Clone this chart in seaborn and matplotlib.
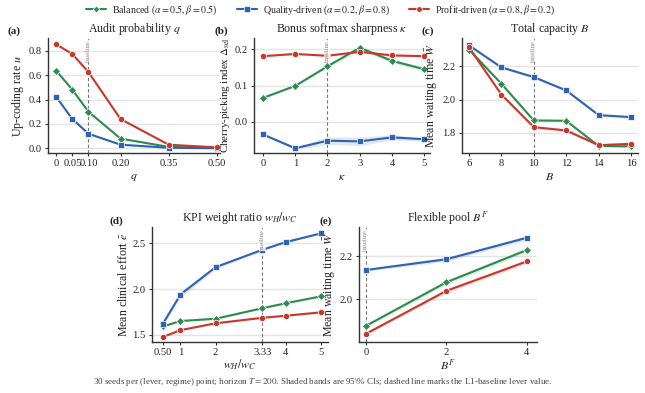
import numpy as np
import pandas as pd
import matplotlib
matplotlib.use("Agg")
import matplotlib.pyplot as plt
from matplotlib.lines import Line2D
import seaborn as sns

sns.set_theme(style="white")
plt.rcParams['font.family'] = ['Liberation Serif', 'DejaVu Serif']
plt.rcParams['mathtext.fontset'] = 'stix'

regimes = ["Balanced", "Quality-driven", "Profit-driven"]
legend_labels = [r"Balanced ($\alpha=0.5, \beta=0.5$)",
                 r"Quality-driven ($\alpha=0.2, \beta=0.8$)",
                 r"Profit-driven ($\alpha=0.8, \beta=0.2$)"]
palette = {"Balanced": "#2e8b4f", "Quality-driven": "#2f62b0", "Profit-driven": "#c8372d"}
markers = {"Balanced": "D", "Quality-driven": "s", "Profit-driven": "o"}
msizes = {"Balanced": 3.8, "Quality-driven": 4.5, "Profit-driven": 4.5}

# (a) Audit probability q
q_vals = [0, 0.05, 0.10, 0.20, 0.35, 0.50]
q_ticklabels = ["0", "0.05", "0.10", "0.20", "0.35", "0.50"]
u_bal = [0.635, 0.48, 0.30, 0.08, 0.012, 0.003]
u_qual = [0.42, 0.24, 0.12, 0.03, 0.005, 0.001]
u_prof = [0.852, 0.772, 0.625, 0.24, 0.03, 0.008]
u_ci = [0.006, 0.006, 0.006, 0.005, 0.003, 0.002]

# (b) Bonus softmax sharpness kappa
k_vals = [0, 1, 2, 3, 4, 5]
d_bal = [0.066, 0.099, 0.153, 0.204, 0.168, 0.145]
d_qual = [-0.035, -0.073, -0.052, -0.054, -0.043, -0.048]
d_prof = [0.181, 0.187, 0.182, 0.193, 0.183, 0.181]
d_ci_bal = [0.002, 0.003, 0.004, 0.007, 0.006, 0.005]
d_ci_qual = [0.003, 0.004, 0.010, 0.012, 0.007, 0.005]
d_ci_prof = [0.002, 0.002, 0.002, 0.003, 0.003, 0.003]

# (c) Total capacity B
B_vals = [6, 8, 10, 12, 14, 16]
wB_bal = [2.300, 2.095, 1.875, 1.873, 1.722, 1.720]
wB_qual = [2.325, 2.193, 2.135, 2.055, 1.907, 1.895]
wB_prof = [2.313, 2.030, 1.835, 1.815, 1.727, 1.735]
wB_ci = [0.008, 0.008, 0.008, 0.008, 0.007, 0.007]

# (d) KPI weight ratio
w_vals = [0.5, 1, 2, 3.33, 4, 5]
w_ticklabels = ["0.50", "1", "2", "3.33", "4", "5"]
e_bal = [1.59, 1.650, 1.675, 1.790, 1.845, 1.920]
e_qual = [1.62, 1.940, 2.240, 2.430, 2.515, 2.610]
e_prof = [1.475, 1.550, 1.625, 1.685, 1.708, 1.745]
e_ci_bal = [0.008, 0.008, 0.008, 0.008, 0.008, 0.008]
e_ci_qual = [0.02, 0.035, 0.02, 0.012, 0.01, 0.01]
e_ci_prof = [0.007, 0.007, 0.007, 0.007, 0.007, 0.007]

# (e) Flexible pool B^F
BF_vals = [0, 2, 4]
wF_bal = [1.875, 2.078, 2.228]
wF_qual = [2.135, 2.185, 2.285]
wF_prof = [1.838, 2.038, 2.175]
wF_ci = [0.006, 0.010, 0.010]

caption = (r"30 seeds per (lever, regime) point; horizon $T = 200$. Shaded bands are 95\% CIs; "
           r"dashed line marks the L1-baseline lever value.")

W, H = 645, 393
fig = plt.figure(figsize=(W / 100, H / 100), dpi=100)

FS_TITLE = 8.6
FS_LABEL = 8.6
FS_TICK = 7.6


def add_ax(l, t, r, b):
    return fig.add_axes([l / W, 1 - b / H, (r - l) / W, (b - t) / H])


def panel(ax, xs, series, cis, baseline, xlim, ylim, yticks, xticks, xticklabels,
          title, xlabel, ylabel, letter, letter_x, letter_y, xpad=2, yfs=FS_LABEL):
    rows = []
    for reg, ys in zip(regimes, series):
        for x, y in zip(xs, ys):
            rows.append({"x": x, "y": y, "regime": reg})
    df = pd.DataFrame(rows)
    for reg, ys, ci in zip(regimes, series, cis):
        ys = np.asarray(ys); ci = np.asarray(ci)
        ax.fill_between(xs, ys - ci, ys + ci, color=palette[reg], alpha=0.15, lw=0, zorder=1)
    sns.lineplot(data=df, x="x", y="y", hue="regime", style="regime", hue_order=regimes,
                 style_order=regimes, palette=palette, markers=markers, dashes=False,
                 ax=ax, legend=False, linewidth=1.5, markersize=4.5,
                 markeredgecolor="white", markeredgewidth=0.5, zorder=3)
    for line, reg in zip(ax.get_lines(), regimes):
        line.set_markersize(msizes[reg])
    ax.axvline(baseline, color="#777777", ls=(0, (3, 2)), lw=0.8, zorder=2)
    ax.text(baseline, ylim[1] - (ylim[1] - ylim[0]) * 0.02, "baseline", rotation=90,
            fontsize=4.8, color="#8a8a8a", ha="center", va="top", zorder=4,
            bbox=dict(facecolor="white", edgecolor="none", pad=0.3, alpha=0.85))
    ax.set_xlim(*xlim); ax.set_ylim(*ylim)
    ax.set_yticks(yticks)
    ax.set_xticks(xticks); ax.set_xticklabels(xticklabels)
    ax.yaxis.grid(True, color="#e4e4e4", lw=1.0)
    ax.xaxis.grid(False)
    ax.set_axisbelow(True)
    for s in ["top", "right"]:
        ax.spines[s].set_visible(False)
    for s in ["left", "bottom"]:
        ax.spines[s].set_color("#333333"); ax.spines[s].set_linewidth(1.0)
    ax.tick_params(axis="both", which="both", direction="out", length=2.5, width=0.8, pad=2,
                   color="#333333", labelsize=FS_TICK, labelcolor="#222222", bottom=True, left=True)
    ax.set_title(title, fontsize=FS_TITLE, pad=4, color="#222222")
    ax.set_xlabel(xlabel, fontsize=FS_LABEL, labelpad=xpad, color="#222222")
    ax.set_ylabel(ylabel, fontsize=yfs, labelpad=1.5, color="#222222")
    fig.text(letter_x / W, 1 - letter_y / H, letter, fontsize=8, fontweight="bold",
             ha="left", va="center", color="#222222")


ax_a = add_ax(48, 38, 220, 153)
panel(ax_a, q_vals, [u_bal, u_qual, u_prof], [u_ci, u_ci, u_ci], 0.10,
      (-0.026, 0.51), (-0.038, 0.904), [0.0, 0.2, 0.4, 0.6, 0.8],
      q_vals, q_ticklabels, r"Audit probability $q$", r"$q$", r"Up-coding rate $u$",
      "(a)", 7, 31)
ax_a.set_yticklabels(["0.0", "0.2", "0.4", "0.6", "0.8"])

ax_b = add_ax(254, 38, 430, 153)
panel(ax_b, k_vals, [d_bal, d_qual, d_prof], [d_ci_bal, d_ci_qual, d_ci_prof], 2,
      (-0.28, 5.18), (-0.086, 0.231), [0.0, 0.1, 0.2],
      k_vals, [str(k) for k in k_vals], r"Bonus softmax sharpness $\kappa$", r"$\kappa$",
      r"Cherry-picking index $\Delta_{\rm sel}$", "(b)", 214, 31, yfs=7.9)
ax_b.set_yticklabels(["0.0", "0.1", "0.2"])

ax_c = add_ax(462, 38, 638, 153)
panel(ax_c, B_vals, [wB_bal, wB_qual, wB_prof], [wB_ci, wB_ci, wB_ci], 10,
      (5.57, 16.43), (1.68, 2.369), [1.8, 2.0, 2.2],
      B_vals, [str(b) for b in B_vals], r"Total capacity $B$", r"$B$",
      r"Mean waiting time $\bar{W}$", "(c)", 421, 31)

ax_d = add_ax(152, 227, 328, 342)
panel(ax_d, w_vals, [e_bal, e_qual, e_prof], [e_ci_bal, e_ci_qual, e_ci_prof], 3.33,
      (0.19, 5.2), (1.42, 2.68), [1.5, 2.0, 2.5],
      w_vals, w_ticklabels, r"KPI weight ratio $w_H/w_C$", r"$w_H/w_C$",
      r"Mean clinical effort $\bar{e}$", "(d)", 110, 221, xpad=0.5)

ax_e = add_ax(359, 227, 537, 342)
panel(ax_e, BF_vals, [wF_bal, wF_qual, wF_prof], [wF_ci, wF_ci, wF_ci], 0,
      (-0.17, 4.25), (1.80, 2.335), [2.0, 2.2],
      BF_vals, [str(b) for b in BF_vals], r"Flexible pool $B^F$", r"$B^F$",
      r"Mean waiting time $\bar{W}$", "(e)", 319, 221, xpad=0.5)

handles = [Line2D([0], [0], color=palette[r], marker=markers[r], lw=1.5,
                  markersize=msizes[r] * 0.9,
                  markeredgecolor="white", markeredgewidth=0.5) for r in regimes]
fig.legend(handles, legend_labels, loc="center", bbox_to_anchor=(0.497, 1 - 10 / H), ncol=3,
           frameon=False, fontsize=7.1, handlelength=2.0, columnspacing=2.0, handletextpad=0.6)

fig.text(0.5, 1 - 382.5 / H, caption, ha="center", va="center", fontsize=6.5, color="#444444")

fig.savefig("out.png", dpi=100)
